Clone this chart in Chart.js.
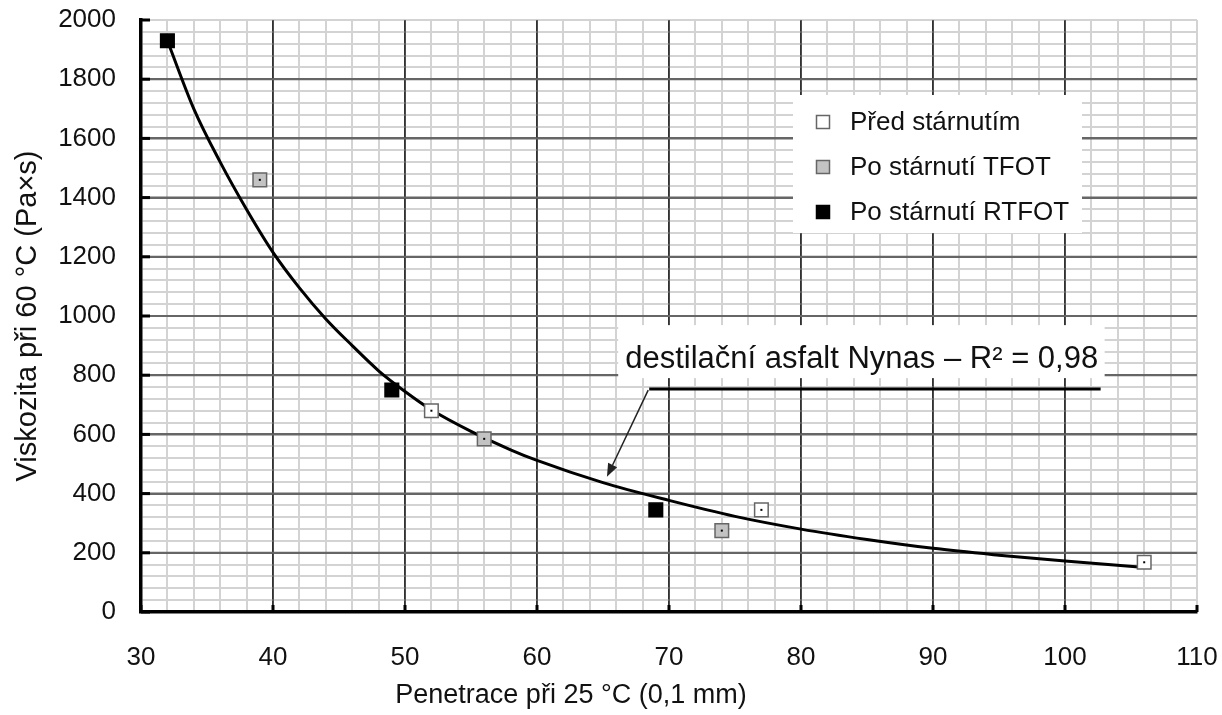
<!DOCTYPE html>
<html>
<head>
<meta charset="utf-8">
<script src="https://cdn.jsdelivr.net/npm/chart.js@4/dist/chart.umd.min.js"></script>
<style>
    html, body { margin: 0; padding: 0; background: #fff; }
    #wrap { width: 1222px; height: 715px; }
</style>
</head>
<body>
<div id="wrap"><canvas id="chart" width="1222" height="715"></canvas></div>
<script>
// Penetrace při 25 °C (0,1 mm) vs. viskozita při 60 °C (Pa×s)
const predX = [52, 77, 106];
const predY = [680, 345, 168];
const tfotX = [39, 56, 74];
const tfotY = [1460, 585, 275];
const rtfotX = [32, 49, 69];
const rtfotY = [1930, 750, 345];

// regresní křivka (odečtené body)
const fitX = [32, 34, 36, 38, 40, 42, 44, 46, 48, 50, 52, 55, 58, 60, 65, 70, 75, 80, 85, 90, 95, 100, 105.6];
const fitY = [1930, 1700, 1520, 1360, 1215, 1095, 990, 900, 815, 745, 683, 610, 548, 512, 437, 377, 323, 280, 245, 215, 192, 172, 152];

const seriesLabels = ['Před stárnutím', 'Po stárnutí TFOT', 'Po stárnutí RTFOT'];
const fitLabel = 'destilační asfalt Nynas – R² = 0,98';
const xTitle = 'Penetrace při 25 °C (0,1 mm)';
const yTitle = 'Viskozita při 60 °C (Pa×s)';

const xMajor = [30, 40, 50, 60, 70, 80, 90, 100, 110];
const yMajor = [0, 200, 400, 600, 800, 1000, 1200, 1400, 1600, 1800, 2000];

// kotva popisku křivky (v jednotkách os)
const noteTip = { x: 65.3, y: 457 };
const noteLine = { x0: 68.5, x1: 102.7, y: 753 };

const FONT = '"Liberation Sans", Arial, sans-serif';
const MINOR = '#d3d3d3';

const toPoints = (xs, ys) => xs.map((x, i) => ({ x: x, y: ys[i] }));

const markerStyles = [
    { fill: '#ffffff', stroke: '#666666' },
    { fill: '#c3c3c3', stroke: '#666666' },
    { fill: '#000000', stroke: '#000000' }
];

function marker(label, data, style) {
    return {
        type: 'scatter',
        label: label,
        data: data,
        pointStyle: 'rect',
        pointRadius: 9.6,
        pointHoverRadius: 9.6,
        pointBorderWidth: 1.5,
        backgroundColor: style.fill,
        borderColor: style.stroke,
        order: 0
    };
}

function drawSquare(ctx, x, y, style) {
    ctx.save();
    ctx.fillStyle = style.fill;
    ctx.strokeStyle = style.stroke;
    ctx.lineWidth = 1.5;
    ctx.fillRect(x - 6.5, y - 6.5, 13, 13);
    ctx.strokeRect(x - 6.5, y - 6.5, 13, 13);
    ctx.restore();
}

const decor = {
    id: 'decor',
    beforeDatasetsDraw(chart) {
        // hlavní mřížka přes vedlejší
        const { ctx, chartArea: ca, scales } = chart;
        ctx.save();
        ctx.strokeStyle = '#333';
        ctx.lineWidth = 1.5;
        xMajor.slice(1, -1).forEach(v => {
            const px = scales.x.getPixelForValue(v);
            ctx.beginPath();
            ctx.moveTo(px, ca.top);
            ctx.lineTo(px, ca.bottom);
            ctx.stroke();
        });
        ctx.strokeStyle = '#666';
        ctx.lineWidth = 2;
        yMajor.slice(1, -1).forEach(v => {
            const py = scales.y.getPixelForValue(v);
            ctx.beginPath();
            ctx.moveTo(ca.left, py);
            ctx.lineTo(ca.right, py);
            ctx.stroke();
        });
        ctx.restore();
    },
    afterDatasetsDraw(chart) {
        const { ctx, chartArea: ca, scales } = chart;
        const xs = scales.x, ys = scales.y;

        // tečky ve středu značek
        ctx.save();
        ctx.fillStyle = '#000';
        [0, 1].forEach(i => {
            chart.getDatasetMeta(i).data.forEach(pt => {
                ctx.fillRect(pt.x - 1, pt.y - 1, 2, 2);
            });
        });

        // vnitřní značky hlavních dílků
        xMajor.forEach(v => {
            const px = xs.getPixelForValue(v);
            ctx.fillRect(px - 1.5, ca.bottom - 7, 3, 7);
        });
        yMajor.forEach(v => {
            const py = ys.getPixelForValue(v);
            ctx.fillRect(ca.left, py - 1.5, 9, 3);
        });
        ctx.restore();

        // legenda
        const lx = ca.left + 652, ly = ca.top + 75;
        ctx.save();
        ctx.fillStyle = '#fff';
        ctx.fillRect(lx, ly, 289, 138);
        ctx.font = '26px ' + FONT;
        ctx.textBaseline = 'middle';
        seriesLabels.forEach((txt, i) => {
            const cy = ly + 27 + i * 45;
            drawSquare(ctx, lx + 30, cy, markerStyles[i]);
            ctx.fillStyle = '#111';
            ctx.fillText(txt, lx + 57, cy + 1);
        });
        ctx.restore();

        // popisek regresní křivky
        const tipX = xs.getPixelForValue(noteTip.x), tipY = ys.getPixelForValue(noteTip.y);
        const ux0 = xs.getPixelForValue(noteLine.x0), ux1 = xs.getPixelForValue(noteLine.x1);
        const uy = ys.getPixelForValue(noteLine.y);
        ctx.save();
        ctx.fillStyle = '#fff';
        ctx.fillRect(ux0 - 31, uy - 64, ux1 - ux0 + 35, 53);
        ctx.font = '31px ' + FONT;
        ctx.textBaseline = 'alphabetic';
        ctx.fillStyle = '#111';
        ctx.fillText(fitLabel, ux0 - 24, uy - 21);

        ctx.strokeStyle = '#000';
        ctx.lineWidth = 3;
        ctx.beginPath();
        ctx.moveTo(ux0, uy);
        ctx.lineTo(ux1, uy);
        ctx.stroke();

        // šipka
        const ang = Math.atan2(tipY - uy, tipX - ux0);
        const headLen = 13, headW = 5;
        const bx = tipX - headLen * Math.cos(ang), by = tipY - headLen * Math.sin(ang);
        ctx.lineWidth = 1.5;
        ctx.strokeStyle = '#222';
        ctx.beginPath();
        ctx.moveTo(ux0 - 1, uy + 1);
        ctx.lineTo(bx, by);
        ctx.stroke();
        ctx.fillStyle = '#222';
        ctx.beginPath();
        ctx.moveTo(tipX, tipY);
        ctx.lineTo(bx + headW * Math.sin(ang), by - headW * Math.cos(ang));
        ctx.lineTo(bx - headW * Math.sin(ang), by + headW * Math.cos(ang));
        ctx.closePath();
        ctx.fill();

        // popis osy x
        ctx.font = '27px ' + FONT;
        ctx.textAlign = 'center';
        ctx.textBaseline = 'middle';
        ctx.fillStyle = '#111';
        ctx.fillText(xTitle, ca.left + 430, 696);
        ctx.restore();
    }
};

const isMajorX = v => v % 10 === 0 && v !== 110;
const isMajorY = v => v % 200 === 0 && v !== 2000;

new Chart(document.getElementById('chart'), {
    type: 'scatter',
    data: {
        datasets: [
            marker(seriesLabels[0], toPoints(predX, predY), markerStyles[0]),
            marker(seriesLabels[1], toPoints(tfotX, tfotY), markerStyles[1]),
            marker(seriesLabels[2], toPoints(rtfotX, rtfotY), markerStyles[2]),
            {
                type: 'line',
                label: fitLabel,
                data: toPoints(fitX, fitY),
                borderColor: '#000',
                borderWidth: 3,
                pointRadius: 0,
                fill: false,
                cubicInterpolationMode: 'monotone',
                order: 1
            }
        ]
    },
    options: {
        responsive: false,
        animation: false,
        layout: { padding: { left: 0, top: 20, right: 25, bottom: 0 } },
        plugins: {
            legend: { display: false },
            tooltip: { enabled: false }
        },
        scales: {
            x: {
                type: 'linear',
                min: 30,
                max: 110,
                afterFit: s => {
                    s.height = 103;
                    s.paddingLeft = 0;
                    s.paddingRight = 0;
                },
                border: { display: true, color: '#000', width: 3.5 },
                grid: {
                    drawTicks: false,
                    color: c => isMajorX(c.tick.value) ? '#333' : MINOR,
                    lineWidth: c => isMajorX(c.tick.value) ? 1.5 : 2
                },
                ticks: {
                    stepSize: 2,
                    autoSkip: false,
                    maxRotation: 0,
                    padding: 30,
                    color: '#111',
                    font: { family: FONT, size: 26 },
                    callback: v => xMajor.includes(v) ? String(v) : ''
                },
                title: { display: false }
            },
            y: {
                type: 'linear',
                min: 0,
                max: 2000,
                afterFit: s => {
                    s.width = 141;
                    s.paddingTop = 0;
                    s.paddingBottom = 0;
                },
                border: { display: true, color: '#000', width: 3.5 },
                grid: {
                    drawTicks: false,
                    color: c => isMajorY(c.tick.value) ? '#666' : MINOR,
                    lineWidth: 2
                },
                ticks: {
                    stepSize: 40,
                    autoSkip: false,
                    padding: 25,
                    color: '#111',
                    font: { family: FONT, size: 26 },
                    callback: v => yMajor.includes(v) ? String(v) : ''
                },
                title: {
                    display: true,
                    text: yTitle,
                    color: '#111',
                    font: { family: FONT, size: 29 },
                    padding: { top: 11, bottom: 0 }
                }
            }
        }
    },
    plugins: [decor]
});
</script>
</body>
</html>
